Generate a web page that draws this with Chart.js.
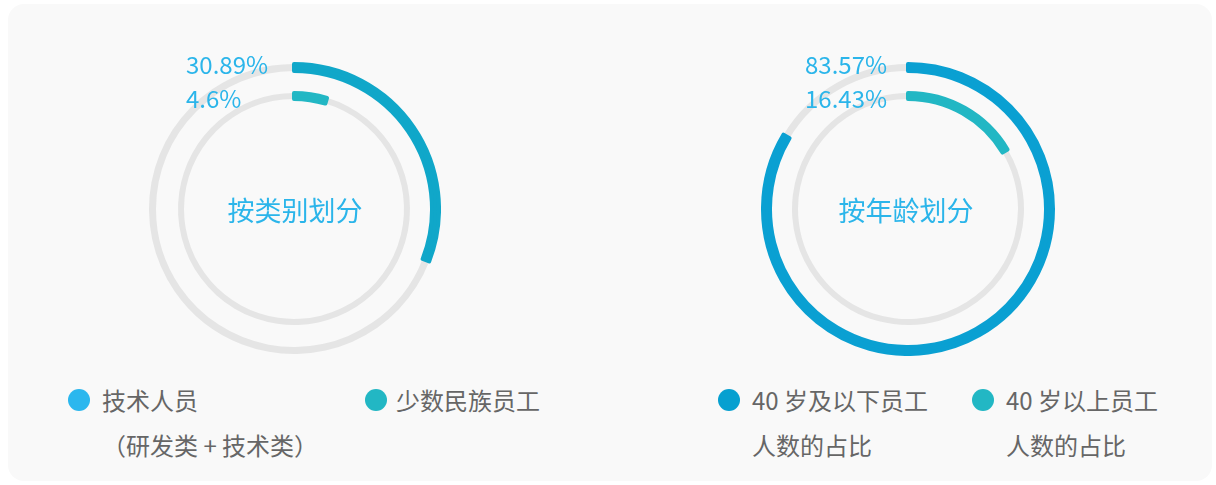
<!DOCTYPE html>
<html>
<head>
<meta charset="utf-8">
<script src="https://cdn.jsdelivr.net/npm/chart.js@4/dist/chart.umd.min.js"></script>
<style>
html,body{margin:0;padding:0;background:#fff;width:1216px;height:485px;overflow:hidden;font-family:"Noto Sans CJK SC","Noto Sans",sans-serif;}
#card{position:absolute;left:8px;top:4px;width:1204px;height:477px;background:#f9f9f9;border-radius:16px;}
canvas{position:absolute;}
.pct{position:absolute;color:#2bb5ea;font-size:24px;line-height:24px;white-space:nowrap;}
.title{position:absolute;color:#2bb5ea;font-size:27px;line-height:27px;white-space:nowrap;transform:translateX(-50%);}
.leg{position:absolute;color:#666;font-size:24px;line-height:24px;white-space:nowrap;}
.dot{position:absolute;width:22px;height:22px;border-radius:50%;}
</style>
</head>
<body>
<div id="card"></div>
<canvas id="c1" width="294" height="294" style="left:147px;top:62px;width:294px;height:294px"></canvas>
<canvas id="c2" width="294" height="294" style="left:761px;top:62px;width:294px;height:294px"></canvas>
<div id="overlay"></div>
<script>
// ---- data ----
const chartTitles = ['按类别划分', '按年龄划分'];
const categorySeries = ['技术人员', '少数民族员工'];
const categoryValues = [30.89, 4.6];
const categoryLegendLines = [['技术人员', '（研发类 + 技术类）'], ['少数民族员工']];
const ageSeries = ['40 岁及以下员工人数的占比', '40 岁以上员工人数的占比'];
const ageValues = [83.57, 16.43];
const ageLegendLines = [['40 岁及以下员工', '人数的占比'], ['40 岁以上员工', '人数的占比']];

const ringColorsLeft = ['#10a7c9', '#22b7c4'];
const ringColorsRight = ['#0aa0d2', '#22b7c4'];
const dotColorsLeft = ['#2bb7ee', '#22b7c4'];
const dotColorsRight = ['#06a0d0', '#22b7c4'];
const trackColor = '#e5e5e5';

Chart.defaults.font.family = '"Noto Sans CJK SC","Noto Sans",sans-serif';

function makeRing(id, labels, values, colors) {
  const ring = (v, color, weight, label) => ({
    label: label,
    data: [100 - v, v],
    backgroundColor: [trackColor, color],
    borderColor: [trackColor, color],
    borderWidth: [0, 4],
    hoverBorderWidth: [0, 4],
    borderJoinStyle: 'round',
    rotation: v / 100 * 360,
    weight: weight
  });
  const datasets = [
    ring(values[0], colors[0], 7, labels[0]),
    { label: 'gap', data: [1], backgroundColor: ['rgba(0,0,0,0)'], borderWidth: [0], hoverBorderWidth: [0], weight: 22 },
    ring(values[1], colors[1], 6, labels[1])
  ];
  return new Chart(document.getElementById(id), {
    type: 'doughnut',
    data: { labels: ['rest', 'value'], datasets: datasets },
    options: {
      responsive: false,
      animation: false,
      events: [],
      cutout: 110,
      layout: { padding: 0 },
      plugins: { legend: { display: false }, tooltip: { enabled: false } }
    }
  });
}

makeRing('c1', categorySeries, categoryValues, ringColorsLeft);
makeRing('c2', ageSeries, ageValues, ringColorsRight);

const ov = document.getElementById('overlay');
function addDiv(cls, text, left, top, color) {
  const d = document.createElement('div');
  d.className = cls;
  d.textContent = text;
  d.style.left = left + 'px';
  d.style.top = top + 'px';
  if (color) d.style.background = color;
  ov.appendChild(d);
  return d;
}
function fmt(v) { return v + '%'; }

// percent labels
addDiv('pct', fmt(categoryValues[0]), 186, 52);
addDiv('pct', fmt(categoryValues[1]), 186, 86);
addDiv('pct', fmt(ageValues[0]), 805, 52);
addDiv('pct', fmt(ageValues[1]), 805, 86);

// center titles
addDiv('title', chartTitles[0], 295, 196);
addDiv('title', chartTitles[1], 906, 196);

// legends
const legendDefs = [
  { lines: categoryLegendLines[0], dot: dotColorsLeft[0], dx: 68, tx: [102, 102] },
  { lines: categoryLegendLines[1], dot: dotColorsLeft[1], dx: 365, tx: [396] },
  { lines: ageLegendLines[0], dot: dotColorsRight[0], dx: 718, tx: [752, 752] },
  { lines: ageLegendLines[1], dot: dotColorsRight[1], dx: 972, tx: [1006, 1006] }
];
legendDefs.forEach(l => {
  addDiv('dot', '', l.dx, 389, l.dot);
  l.lines.forEach((t, i) => addDiv('leg', t, l.tx[i], 388 + i * 45));
});
</script>
</body>
</html>
